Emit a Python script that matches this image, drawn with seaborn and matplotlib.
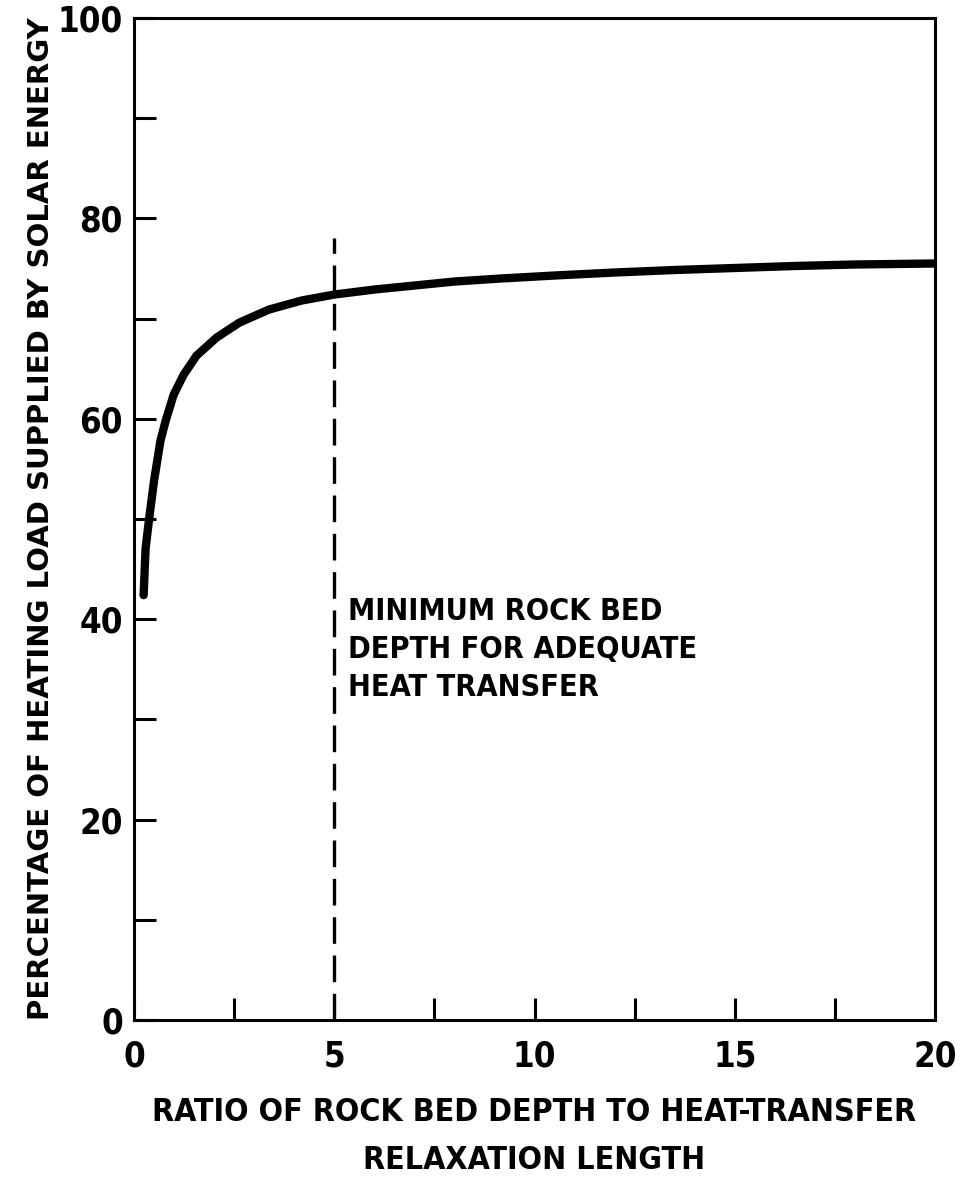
import matplotlib
matplotlib.use("Agg")
import matplotlib.pyplot as plt
import seaborn as sns
import pandas as pd

# Data
ratio = [0.24, 0.29, 0.38, 0.50, 0.66, 0.79, 0.99, 1.24, 1.56, 2.06, 2.63, 3.37, 4.18, 5.0, 6.0, 7.0, 8.0, 9.15, 10.5, 12.0, 13.5, 15.0, 16.5, 18.0, 20.0]
percent = [42.4, 47.1, 50.1, 53.8, 57.8, 59.8, 62.4, 64.4, 66.3, 68.1, 69.6, 70.9, 71.8, 72.4, 72.9, 73.3, 73.7, 74.0, 74.3, 74.6, 74.85, 75.05, 75.25, 75.4, 75.5]
min_depth_x = 5.0
min_depth_top = 78.0
x_ticks = [0, 2.5, 5, 7.5, 10, 12.5, 15, 17.5, 20]
x_ticklabels = ["0", "", "5", "", "10", "", "15", "", "20"]
y_ticks = [0, 10, 20, 30, 40, 50, 60, 70, 80, 90, 100]
y_ticklabels = ["0", "", "20", "", "40", "", "60", "", "80", "", "100"]

df = pd.DataFrame({"ratio": ratio, "percent": percent})

sns.set_theme(style="ticks")
plt.rcParams["font.family"] = ["DejaVu Sans"]
plt.rcParams["text.color"] = "black"
plt.rcParams["axes.labelcolor"] = "black"

fig = plt.figure(figsize=(9.61, 11.83), dpi=100)
ax = fig.add_axes([134 / 961, 1 - 1020 / 1183, (935 - 134) / 961, (1020 - 18) / 1183])

sns.lineplot(data=df, x="ratio", y="percent", ax=ax, color="black", linewidth=6,
             solid_capstyle="round", solid_joinstyle="round")
ax.plot([min_depth_x, min_depth_x], [0, min_depth_top], color="black", linewidth=2.4,
        dashes=(8, 3.5))

ax.set_xlim(0, 20)
ax.set_ylim(0, 100)
ax.set_xticks(x_ticks)
ax.set_xticklabels(x_ticklabels)
ax.set_yticks(y_ticks)
ax.set_yticklabels(y_ticklabels)
ax.tick_params(axis="both", direction="in", length=16, width=2.2, color="black",
               labelsize=25, labelcolor="black")
ax.tick_params(axis="x", pad=14)
ax.tick_params(axis="y", pad=8)
for lab in ax.get_xticklabels() + ax.get_yticklabels():
    lab.set_fontweight("bold")
    lab.set_fontstretch("condensed")
for s in ax.spines.values():
    s.set_visible(True)
    s.set_linewidth(2.2)
    s.set_color("black")

ax.set_xlabel("RATIO OF ROCK BED DEPTH TO HEAT-TRANSFER\nRELAXATION LENGTH",
              fontsize=23, fontweight="bold", labelpad=17, linespacing=1.72,
              fontstretch="condensed")
ax.set_ylabel("PERCENTAGE OF HEATING LOAD SUPPLIED BY SOLAR ENERGY",
              fontsize=21, fontweight="bold", labelpad=2)

ax.text(5.35, 37.0, "MINIMUM ROCK BED\nDEPTH FOR ADEQUATE\nHEAT TRANSFER",
        fontsize=22, fontweight="bold", va="center", ha="left", linespacing=1.4,
        fontstretch="condensed")

fig.savefig("out.png", dpi=100, facecolor="white")
